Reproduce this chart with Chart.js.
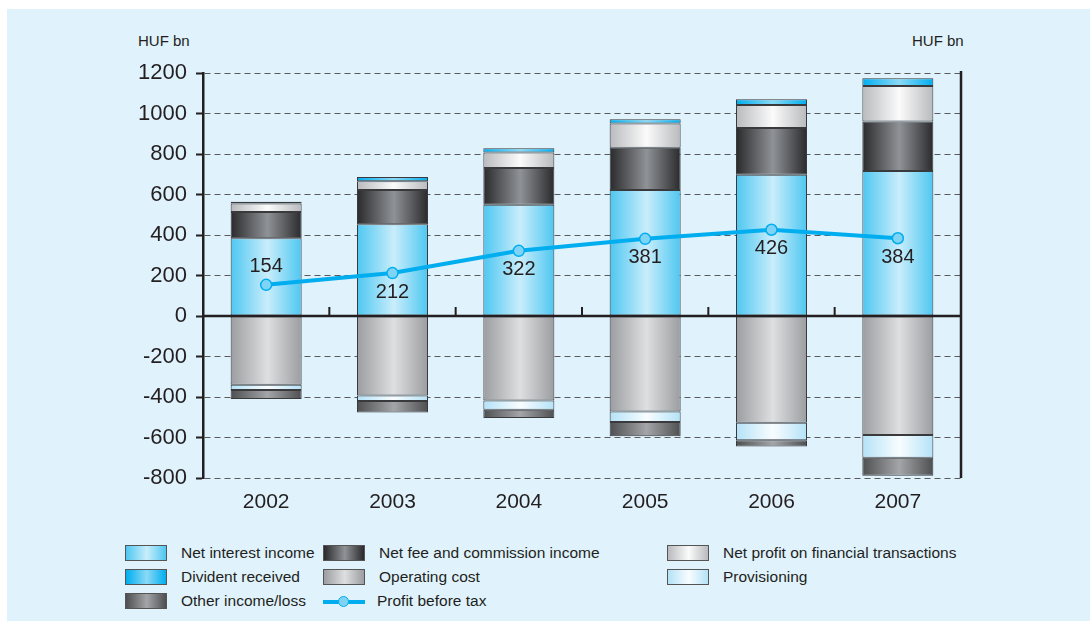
<!DOCTYPE html>
<html>
<head>
<meta charset="utf-8">
<script src="https://cdn.jsdelivr.net/npm/chart.js@4.4.1/dist/chart.umd.min.js"></script>
<style>
  html, body { margin: 0; padding: 0; background: #ffffff; }
  body { width: 1090px; height: 621px; position: relative; overflow: hidden;
         font-family: "Liberation Sans", Arial, sans-serif; color: #231f20; }
  #panel { position: absolute; left: 7px; top: 9px; width: 1083px; height: 612px; background: #e0f2fc; }
  #wrap { position: absolute; left: 0; top: 0; width: 1090px; height: 530px; }
  .unit { position: absolute; top: 32px; font-size: 15px; }
  #legend { position: absolute; left: 125px; top: 545px; display: grid;
            grid-template-columns: 198px 344px auto; row-gap: 8px; font-size: 15.5px; }
  .item { display: flex; align-items: center; height: 16px; }
  .sw { width: 40px; height: 14px; border: 1px solid #555; margin-right: 14px; flex: none; }
  .ln { width: 42px; height: 15px; margin-right: 12px; position: relative; flex: none; }
  .ln::before { content: ""; position: absolute; left: 0; right: 0; top: 6px; height: 4px; background: #00aeef; }
  .ln::after { content: ""; position: absolute; left: 15px; top: 2px; width: 9px; height: 9px;
               border-radius: 50%; background: #7fd3f4; border: 1.5px solid #00aeef; }
</style>
</head>
<body>
<div id="panel"></div>
<div class="unit" style="left:138px">HUF bn</div>
<div class="unit" style="left:912px">HUF bn</div>
<div id="wrap"><canvas id="chart" width="1090" height="530"></canvas></div>
<div id="legend"></div>
<script>
// HUF bn
const years = ["2002", "2003", "2004", "2005", "2006", "2007"];
const netInterest = [384, 453, 550, 622, 698, 716];
const netFee = [130, 169, 181, 209, 230, 245];
const netFinancial = [42, 43, 77, 120, 114, 175];
const dividend = [8, 22, 20, 20, 28, 38];
const operatingCost = [-340, -392, -417, -471, -527, -588];
const provisioning = [-25, -28, -46, -52, -87, -112];
const otherIncome = [-45, -56, -41, -71, -31, -89];
const profitBeforeTax = [154, 212, 322, 381, 426, 384];
const yTicks = [-800, -600, -400, -200, 0, 200, 400, 600, 800, 1000, 1200];

const barPct = 0.562;
const ink = "#231f20";

// edge colour, centre colour for the cylinder shading
const shades = {
    interest: ["#4ec7f1", "#c9edfb"],
    dividend: ["#00aeef", "#8ad9f6"],
    fee: ["#2a2a2c", "#8f9296"],
    financial: ["#b9babd", "#fbfbfb"],
    operating: ["#9b9da0", "#dedfe1"],
    provisioning: ["#b4e2f7", "#f8fdff"],
    other: ["#4e4f51", "#a3a5a8"]
};

function barFill(stops) {
    return ctx => {
        const chart = ctx.chart;
        const x = chart.scales.x;
        if (!x || !chart.chartArea || ctx.dataIndex === undefined) return stops[0];
        const c = x.getPixelForValue(ctx.dataIndex);
        const half = x.width / years.length * barPct / 2;
        const g = chart.ctx.createLinearGradient(c - half, 0, c + half, 0);
        g.addColorStop(0, stops[0]);
        g.addColorStop(0.52, stops[1]);
        g.addColorStop(1, stops[0]);
        return g;
    };
}

function barSet(label, data, stops) {
    return {
        type: "bar",
        label: label,
        data: data,
        stack: "main",
        order: 1,
        backgroundColor: barFill(stops),
        borderColor: "#3a3a3c",
        borderWidth: 1,
        borderSkipped: false,
        categoryPercentage: 1,
        barPercentage: barPct,
        shades: stops
    };
}

// zero line, category ticks on it, right axis and the point labels
const extras = {
    id: "extras",
    afterDatasetsDraw(chart) {
        const { ctx, chartArea, scales } = chart;
        const y0 = scales.y.getPixelForValue(0);
        ctx.save();
        ctx.strokeStyle = "#231f20";
        ctx.lineWidth = 2.5;
        ctx.beginPath();
        ctx.moveTo(chartArea.left, y0);
        ctx.lineTo(chartArea.right, y0);
        ctx.moveTo(chartArea.right, chartArea.top - 2);
        ctx.lineTo(chartArea.right, chartArea.bottom);
        ctx.stroke();
        ctx.lineWidth = 2;
        const step = scales.x.width / years.length;
        ctx.beginPath();
        for (let i = 1; i < years.length; i++) {
            const x = chartArea.left + step * i;
            ctx.moveTo(x, y0);
            ctx.lineTo(x, y0 - 9);
        }
        ctx.stroke();

        const meta = chart.getDatasetMeta(chart.data.datasets.length - 1);
        ctx.fillStyle = ink;
        ctx.font = "20px 'Liberation Sans', Arial, sans-serif";
        ctx.textAlign = "center";
        ctx.textBaseline = "middle";
        meta.data.forEach((pt, i) => {
            const dy = i === 0 ? -18 : 19;
            ctx.fillText(String(profitBeforeTax[i]), pt.x, pt.y + dy);
        });
        ctx.restore();
    }
};

const chart = new Chart(document.getElementById("chart"), {
    data: {
        labels: years,
        datasets: [
            barSet("Net interest income", netInterest, shades.interest),
            barSet("Net fee and commission income", netFee, shades.fee),
            barSet("Net profit on financial transactions", netFinancial, shades.financial),
            barSet("Divident received", dividend, shades.dividend),
            barSet("Operating cost", operatingCost, shades.operating),
            barSet("Provisioning", provisioning, shades.provisioning),
            barSet("Other income/loss", otherIncome, shades.other),
            {
                type: "line",
                label: "Profit before tax",
                data: profitBeforeTax,
                stack: "profit",
                order: 0,
                borderColor: "#00aeef",
                borderWidth: 4,
                pointRadius: 5.5,
                pointBackgroundColor: "#7fd3f4",
                pointBorderColor: "#00aeef",
                pointBorderWidth: 1.5,
                tension: 0
            }
        ]
    },
    options: {
        responsive: false,
        animation: false,
        layout: { padding: { left: 0, right: 129, top: 73, bottom: 0 } },
        plugins: {
            legend: { display: false },
            tooltip: { enabled: false }
        },
        scales: {
            x: {
                stacked: true,
                grid: { display: false, drawTicks: false },
                border: { display: false },
                ticks: { color: ink, padding: 12, font: { size: 21, family: "'Liberation Sans', Arial, sans-serif" } },
                afterFit: scale => { scale.height = 52; }
            },
            y: {
                stacked: true,
                min: -800,
                max: 1200,
                afterBuildTicks: scale => { scale.ticks = yTicks.map(v => ({ value: v })); },
                afterFit: scale => { scale.width = 203; },
                grid: {
                    color: "#5a5a5c",
                    lineWidth: 1,
                    tickLength: 7,
                    tickColor: ink,
                    tickWidth: 2
                },
                border: { display: true, color: ink, width: 2.5, dash: [6, 4] },
                ticks: {
                    color: ink,
                    padding: 9,
                    font: { size: 22, family: "'Liberation Sans', Arial, sans-serif" },
                    callback: v => String(v)
                }
            }
        }
    },
    plugins: [extras]
});

// legend in three columns, filled row by row
const legend = document.getElementById("legend");
chart.data.datasets.forEach(ds => {
    const item = document.createElement("div");
    item.className = "item";
    const sw = document.createElement("span");
    if (ds.type === "line") {
        sw.className = "ln";
    } else {
        sw.className = "sw";
        const s = ds.shades;
        sw.style.background = `linear-gradient(to right, ${s[0]}, ${s[1]} 52%, ${s[0]})`;
    }
    const txt = document.createElement("span");
    txt.textContent = ds.label;
    item.appendChild(sw);
    item.appendChild(txt);
    legend.appendChild(item);
});
</script>
</body>
</html>
